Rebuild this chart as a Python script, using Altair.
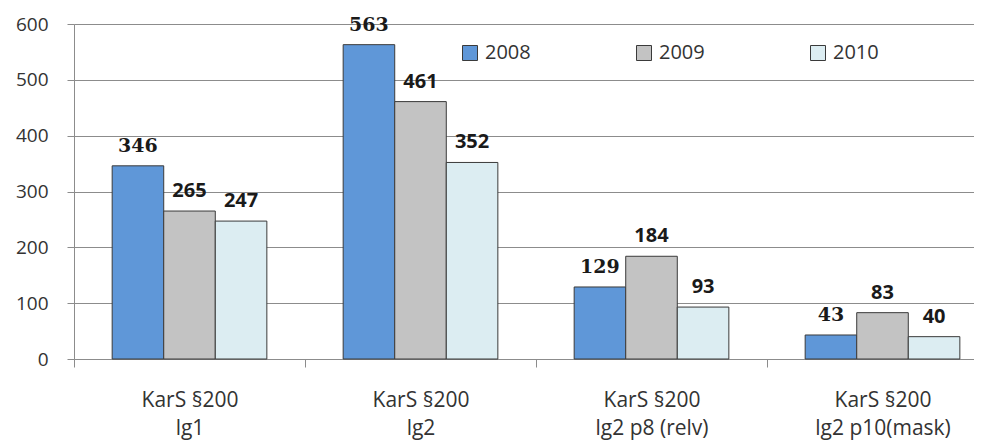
import altair as alt
import pandas as pd

categories = ["KarS §200\nlg1", "KarS §200\nlg2", "KarS §200\nlg2 p8 (relv)", "KarS §200\nlg2 p10(mask)"]
years = ["2008", "2009", "2010"]
values_2008 = [346, 563, 129, 43]
values_2009 = [265, 461, 184, 83]
values_2010 = [247, 352, 93, 40]
y_ticks = [0, 100, 200, 300, 400, 500, 600]
colors = ["#5f97d8", "#c3c3c3", "#dcedf2"]

rows = []
for yr, vals in zip(years, [values_2008, values_2009, values_2010]):
    for c, v in zip(categories, vals):
        rows.append({"cat": c, "year": yr, "value": v})
df = pd.DataFrame(rows)

GRID = "#8c8c8c"
x_enc = alt.X(
    "cat:N", sort=categories,
    scale=alt.Scale(range=[0, 924], paddingInner=0, paddingOuter=0),
    axis=alt.Axis(title=None, labelAngle=0, domain=False, tickBand="extent",
                  tickSize=8, tickColor=GRID, labelExpr="split(datum.label, '\\n')",
                  labelLineHeight=28, labelPadding=22, labelFontSize=21,
                  labelFont="Open Sans", labelColor="#333333", labelOverlap=False),
)
xo_enc = alt.XOffset("year:N", sort=years, scale=alt.Scale(paddingOuter=0.74, paddingInner=0))
y_enc = alt.Y(
    "value:Q", scale=alt.Scale(domain=[0, 600], nice=False),
    axis=alt.Axis(title=None, values=y_ticks, grid=True, gridColor=GRID, domainColor=GRID,
                  tickColor=GRID, tickSize=7, labelPadding=19, labelFontSize=19,
                  labelFont="Open Sans", labelColor="#333333"),
)

base = alt.Chart(df)
bars = base.mark_bar(stroke="#3a3a3a", strokeWidth=1).encode(
    x=x_enc, xOffset=xo_enc, y=y_enc,
    color=alt.Color("year:N", sort=years, scale=alt.Scale(domain=years, range=colors),
                    legend=alt.Legend(title=None, orient="none", legendX=386, legendY=19,
                                      direction="horizontal", columns=3, symbolType="square",
                                      symbolSize=225, symbolStrokeColor="#3a3a3a",
                                      symbolStrokeWidth=1, labelFontSize=20,
                                      labelFont="Open Sans", labelColor="#333333",
                                      labelOffset=5, columnPadding=103)),
)
lab08 = base.transform_filter(alt.datum.year == "2008").mark_text(
    font="DejaVu Serif", fontWeight="bold", fontSize=19, dy=-14, baseline="alphabetic",
    color="#1a1a1a").encode(x=x_enc, xOffset=xo_enc, y=y_enc, text="value:Q")
labOther = base.transform_filter(alt.datum.year != "2008").mark_text(
    font="Open Sans", fontWeight="bold", fontSize=20, dy=-14, baseline="alphabetic",
    color="#1a1a1a").encode(x=x_enc, xOffset=xo_enc, y=y_enc, text="value:Q")

chart = alt.layer(bars, lab08, labOther).properties(
    width=900, height=335,
    autosize=alt.AutoSizeParams(type="none"),
    padding={"left": 66, "top": 16, "right": 0, "bottom": 83},
).configure_view(stroke=None).configure(background="white")

chart.save("out.html", embed_options={"renderer": "svg", "actions": False})
